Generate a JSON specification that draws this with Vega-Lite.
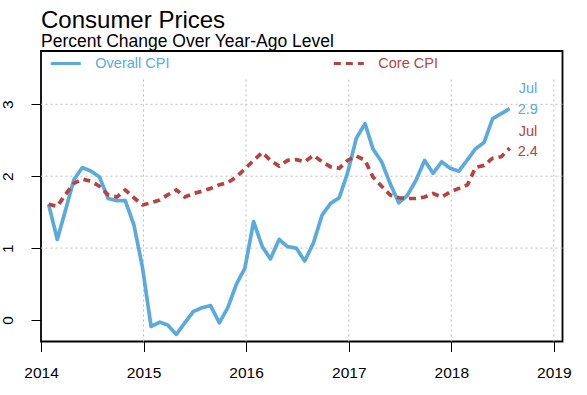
{
  "$schema": "https://vega.github.io/schema/vega-lite/v6.json",
  "width": 521.5,
  "height": 290.5,
  "autosize": {"type": "none"},
  "padding": {"left": 41, "top": 51, "right": 24.5, "bottom": 53.5},
  "background": "white",
  "title": {
    "text": "Consumer Prices",
    "subtitle": "Percent Change Over Year-Ago Level",
    "anchor": "start",
    "frame": "group",
    "font": "Liberation Sans",
    "fontSize": 24,
    "fontWeight": "normal",
    "color": "black",
    "subtitleFont": "Liberation Sans",
    "subtitleFontSize": 17.5,
    "subtitleColor": "black",
    "subtitlePadding": 0,
    "offset": -3
  },
  "config": {
    "view": {"stroke": "black", "strokeWidth": 1.8},
    "axis": {
      "domain": false,
      "grid": false,
      "tickColor": "black",
      "tickWidth": 1,
      "tickSize": 10,
      "labelColor": "black",
      "labelFont": "Liberation Sans",
      "labelFontSize": 15.5
    }
  },
  "datasets": {
    "cpi": [
      {"date": "2014-01-28", "Overall CPI": 1.61, "Core CPI": 1.61},
      {"date": "2014-02-28", "Overall CPI": 1.12, "Core CPI": 1.58},
      {"date": "2014-03-28", "Overall CPI": 1.51, "Core CPI": 1.74},
      {"date": "2014-04-28", "Overall CPI": 1.95, "Core CPI": 1.9},
      {"date": "2014-05-28", "Overall CPI": 2.12, "Core CPI": 1.96},
      {"date": "2014-06-28", "Overall CPI": 2.07, "Core CPI": 1.93},
      {"date": "2014-07-28", "Overall CPI": 1.99, "Core CPI": 1.86},
      {"date": "2014-08-28", "Overall CPI": 1.69, "Core CPI": 1.74},
      {"date": "2014-09-28", "Overall CPI": 1.66, "Core CPI": 1.71},
      {"date": "2014-10-28", "Overall CPI": 1.66, "Core CPI": 1.81},
      {"date": "2014-11-28", "Overall CPI": 1.32, "Core CPI": 1.7},
      {"date": "2014-12-28", "Overall CPI": 0.74, "Core CPI": 1.6},
      {"date": "2015-01-28", "Overall CPI": -0.09, "Core CPI": 1.63},
      {"date": "2015-02-28", "Overall CPI": -0.03, "Core CPI": 1.67},
      {"date": "2015-03-28", "Overall CPI": -0.07, "Core CPI": 1.74},
      {"date": "2015-04-28", "Overall CPI": -0.2, "Core CPI": 1.81},
      {"date": "2015-05-28", "Overall CPI": -0.04, "Core CPI": 1.71},
      {"date": "2015-06-28", "Overall CPI": 0.12, "Core CPI": 1.76},
      {"date": "2015-07-28", "Overall CPI": 0.17, "Core CPI": 1.79},
      {"date": "2015-08-28", "Overall CPI": 0.2, "Core CPI": 1.83},
      {"date": "2015-09-28", "Overall CPI": -0.04, "Core CPI": 1.88},
      {"date": "2015-10-28", "Overall CPI": 0.17, "Core CPI": 1.91},
      {"date": "2015-11-28", "Overall CPI": 0.5, "Core CPI": 1.99},
      {"date": "2015-12-28", "Overall CPI": 0.72, "Core CPI": 2.1},
      {"date": "2016-01-28", "Overall CPI": 1.37, "Core CPI": 2.22},
      {"date": "2016-02-28", "Overall CPI": 1.02, "Core CPI": 2.33},
      {"date": "2016-03-28", "Overall CPI": 0.85, "Core CPI": 2.22},
      {"date": "2016-04-28", "Overall CPI": 1.12, "Core CPI": 2.14},
      {"date": "2016-05-28", "Overall CPI": 1.02, "Core CPI": 2.22},
      {"date": "2016-06-28", "Overall CPI": 1.0, "Core CPI": 2.23},
      {"date": "2016-07-28", "Overall CPI": 0.82, "Core CPI": 2.2},
      {"date": "2016-08-28", "Overall CPI": 1.07, "Core CPI": 2.29},
      {"date": "2016-09-28", "Overall CPI": 1.46, "Core CPI": 2.2},
      {"date": "2016-10-28", "Overall CPI": 1.62, "Core CPI": 2.13},
      {"date": "2016-11-28", "Overall CPI": 1.7, "Core CPI": 2.11},
      {"date": "2016-12-28", "Overall CPI": 2.05, "Core CPI": 2.22},
      {"date": "2017-01-28", "Overall CPI": 2.53, "Core CPI": 2.28},
      {"date": "2017-02-28", "Overall CPI": 2.73, "Core CPI": 2.22},
      {"date": "2017-03-28", "Overall CPI": 2.38, "Core CPI": 1.99},
      {"date": "2017-04-28", "Overall CPI": 2.2, "Core CPI": 1.86},
      {"date": "2017-05-28", "Overall CPI": 1.9, "Core CPI": 1.74},
      {"date": "2017-06-28", "Overall CPI": 1.63, "Core CPI": 1.7},
      {"date": "2017-07-28", "Overall CPI": 1.73, "Core CPI": 1.69},
      {"date": "2017-08-28", "Overall CPI": 1.94, "Core CPI": 1.69},
      {"date": "2017-09-28", "Overall CPI": 2.22, "Core CPI": 1.71},
      {"date": "2017-10-28", "Overall CPI": 2.04, "Core CPI": 1.76},
      {"date": "2017-11-28", "Overall CPI": 2.2, "Core CPI": 1.71},
      {"date": "2017-12-28", "Overall CPI": 2.11, "Core CPI": 1.78},
      {"date": "2018-01-28", "Overall CPI": 2.07, "Core CPI": 1.83},
      {"date": "2018-02-28", "Overall CPI": 2.23, "Core CPI": 1.88},
      {"date": "2018-03-28", "Overall CPI": 2.38, "Core CPI": 2.12},
      {"date": "2018-04-28", "Overall CPI": 2.47, "Core CPI": 2.15},
      {"date": "2018-05-28", "Overall CPI": 2.8, "Core CPI": 2.25},
      {"date": "2018-06-28", "Overall CPI": 2.87, "Core CPI": 2.27},
      {"date": "2018-07-28", "Overall CPI": 2.94, "Core CPI": 2.39}
    ],
    "years": [
      {"year": "2015-01-01"},
      {"year": "2016-01-01"},
      {"year": "2017-01-01"},
      {"year": "2018-01-01"},
      {"year": "2019-01-01"}
    ],
    "levels": [{"level": 1}, {"level": 2}, {"level": 3}],
    "latest": [
      {"series": "Overall CPI", "date": "2018-07-28", "value": 2.9, "month": "Jul"},
      {"series": "Core CPI", "date": "2018-07-28", "value": 2.4, "month": "Jul"}
    ]
  },
  "layer": [
    {
      "data": {"name": "years"},
      "mark": {"type": "rule", "color": "#bdbdbd", "strokeWidth": 1, "strokeDash": [2, 3]},
      "encoding": {
        "x": {"field": "year", "type": "temporal", "title": null},
        "y": {"datum": -0.299, "type": "quantitative"},
        "y2": {"datum": 3.356}
      }
    },
    {
      "data": {"name": "levels"},
      "mark": {"type": "rule", "color": "#bdbdbd", "strokeWidth": 1, "strokeDash": [2, 3]},
      "encoding": {
        "y": {"field": "level", "type": "quantitative", "title": null}
      }
    },
    {
      "mark": {"type": "rule", "color": "black", "strokeWidth": 1.2},
      "encoding": {"y": {"datum": 0, "type": "quantitative"}}
    },
    {
      "mark": {"type": "rule", "color": "black", "strokeWidth": 1.6},
      "encoding": {"y": {"datum": 3.356, "type": "quantitative"}}
    },
    {
      "data": {"name": "cpi"},
      "transform": [{"fold": ["Overall CPI", "Core CPI"], "as": ["series", "value"]}],
      "mark": {"type": "line", "strokeWidth": 3.7, "strokeJoin": "round"},
      "encoding": {
        "x": {
          "field": "date",
          "type": "temporal",
          "title": null,
          "scale": {"domain": [{"year": 2014, "month": 1, "date": 1}, {"year": 2019, "month": 2, "date": 1}]},
          "axis": {
            "values": [{"year": 2014}, {"year": 2015}, {"year": 2016}, {"year": 2017}, {"year": 2018}, {"year": 2019}],
            "format": "%Y",
            "labelPadding": 14,
            "labelFlush": false,
            "labelOverlap": false
          }
        },
        "y": {
          "field": "value",
          "type": "quantitative",
          "title": null,
          "scale": {"domain": [-0.299, 3.741], "nice": false, "zero": false},
          "axis": {
            "values": [0, 1, 2, 3],
            "format": "d",
            "labelAngle": -90,
            "labelAlign": "center",
            "labelBaseline": "bottom",
            "labelPadding": 16
          }
        },
        "color": {
          "field": "series",
          "type": "nominal",
          "scale": {"domain": ["Overall CPI", "Core CPI"], "range": ["#5aaadd", "#b5443f"]},
          "legend": {
            "orient": "none",
            "legendX": 8.3,
            "legendY": -4,
            "direction": "horizontal",
            "title": null,
            "symbolType": "stroke",
            "symbolSize": 900,
            "symbolStrokeWidth": 3,
            "labelFont": "Liberation Sans",
            "labelFontSize": 14.5,
            "labelOffset": 13,
            "labelLimit": 200,
            "columnPadding": 157,
            "padding": 0,
            "encode": {
              "labels": {
                "update": {
                  "fill": {"signal": "datum.value === 'Overall CPI' ? '#5aaadd' : '#b5443f'"}
                }
              }
            }
          }
        },
        "strokeDash": {
          "field": "series",
          "type": "nominal",
          "scale": {"domain": ["Overall CPI", "Core CPI"], "range": [[1, 0], [7, 5]]},
          "legend": null
        },
        "order": {"field": "series", "sort": "descending"}
      }
    },
    {
      "data": {"name": "latest"},
      "transform": [{"filter": "datum.series === 'Overall CPI'"}],
      "mark": {"type": "text", "align": "left", "baseline": "middle", "dx": 9, "dy": -22, "font": "Liberation Sans", "fontSize": 14.5, "color": "#5aaadd"},
      "encoding": {
        "x": {"field": "date", "type": "temporal"},
        "y": {"field": "value", "type": "quantitative"},
        "text": {"field": "month"}
      }
    },
    {
      "data": {"name": "latest"},
      "transform": [{"filter": "datum.series === 'Overall CPI'"}],
      "mark": {"type": "text", "align": "left", "baseline": "middle", "dx": 8, "dy": -1.5, "font": "Liberation Sans", "fontSize": 14.5, "color": "#5aaadd"},
      "encoding": {
        "x": {"field": "date", "type": "temporal"},
        "y": {"field": "value", "type": "quantitative"},
        "text": {"field": "value", "format": ".1f"}
      }
    },
    {
      "data": {"name": "latest"},
      "transform": [{"filter": "datum.series === 'Core CPI'"}],
      "mark": {"type": "text", "align": "left", "baseline": "middle", "dx": 9, "dy": -15, "font": "Liberation Sans", "fontSize": 14.5, "color": "#b5443f"},
      "encoding": {
        "x": {"field": "date", "type": "temporal"},
        "y": {"field": "value", "type": "quantitative"},
        "text": {"field": "month"}
      }
    },
    {
      "data": {"name": "latest"},
      "transform": [{"filter": "datum.series === 'Core CPI'"}],
      "mark": {"type": "text", "align": "left", "baseline": "middle", "dx": 8, "dy": 4.5, "font": "Liberation Sans", "fontSize": 14.5, "color": "#b5443f"},
      "encoding": {
        "x": {"field": "date", "type": "temporal"},
        "y": {"field": "value", "type": "quantitative"},
        "text": {"field": "value", "format": ".1f"}
      }
    }
  ]
}
